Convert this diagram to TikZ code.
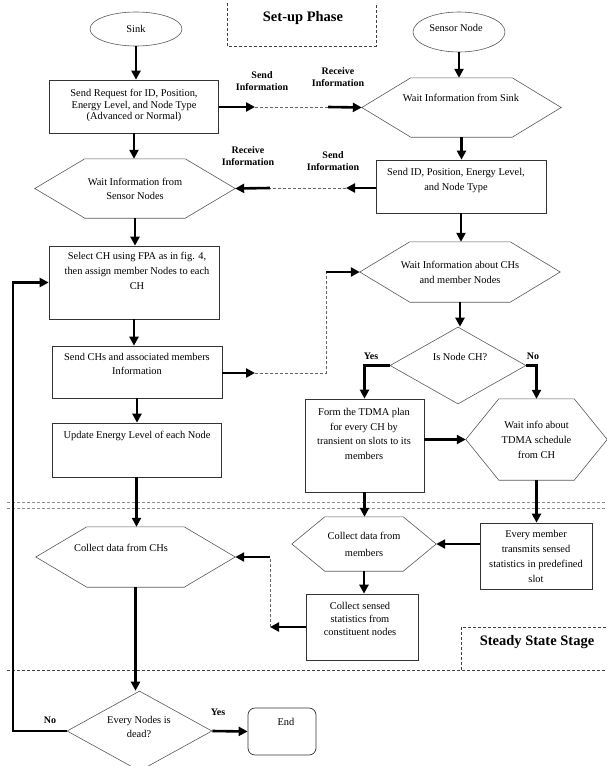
\documentclass[tikz,border=0pt]{standalone}
\usepackage{fontspec}
\setmainfont{Liberation Serif}
\usetikzlibrary{arrows.meta,shapes.geometric}

\tikzset{
  shape line/.style={draw=black!65, line width=0.6pt},
  box/.style={draw=black!80, line width=0.7pt, rectangle, inner sep=0pt},
  hexa/.style={rectangle, inner sep=0pt, align=center, font=\fontsize{10.4}{14}\selectfont},
  txt/.style={align=center, inner sep=0pt, font=\fontsize{10.4}{14}\selectfont},
  tag/.style={align=center, inner sep=0pt, font=\bfseries\fontsize{10}{12}\selectfont},
  title/.style={inner sep=0pt, font=\bfseries\fontsize{14.5}{16}\selectfont},
  flow/.style={line width=2.6pt, -{Triangle[length=9pt,width=9pt]}},
  link/.style={draw=black!60, line width=0.6pt, dash pattern=on 3pt off 2pt},
  frame/.style={draw=black!75, line width=0.6pt, dash pattern=on 3pt off 2pt},
  sep/.style={draw=black!45, line width=0.6pt, dash pattern=on 3pt off 2pt}
}

% hexagon around an empty rectangle node: #1 node, #2 tip length
\newcommand{\drawhex}[2]{\draw[shape line] (#1.west) -- ([xshift=#2]#1.north west)
  -- ([xshift=-#2]#1.north east) -- (#1.east) -- ([xshift=-#2]#1.south east)
  -- ([xshift=#2]#1.south west) -- cycle;}

\begin{document}
\begin{tikzpicture}[x=1pt,y=-1pt]
\useasboundingbox (0,0) rectangle (606,766);

% phases
\draw[frame] (227,3) -- (227,46) -- (376,46) -- (376,3);
\node[title] (setup) at (303,18) {Set-up Phase};
\draw[sep] (7,502) -- (606,502);
\draw[sep] (7,508) -- (606,508);
\draw[frame] (7,670) -- (606,670);
\draw[frame] (461,670) -- (461,627) -- (606,627);
\node[title] (steady) at (537,642) {Steady State Stage};

% sink side
\node[ellipse, shape line, inner sep=0pt, minimum width=92pt, minimum height=34pt, font=\fontsize{10.4}{14}\selectfont] (sink) at (136,29) {Sink};
\node[box, minimum width=169pt, minimum height=53pt] (req) at (134,106.5) {};
\node[txt, font=\fontsize{10.4}{11.5}\selectfont] (reqtxt) at (134,105.5) {Send Request for ID, Position,\\Energy Level, and Node Type\\(Advanced or Normal)};
\node[hexa, minimum width=200pt, minimum height=59pt] (waitsn) at (135,188.5) {Wait Information from\\Sensor Nodes};
\drawhex{waitsn}{50pt}
\node[box, minimum width=170pt, minimum height=73pt] (select) at (134,282.5) {};
\node[txt, font=\fontsize{10.4}{15}\selectfont] (selecttxt) at (137,271) {Select CH using FPA as in fig. 4,\\then assign member Nodes to each\\CH};
\node[box, minimum width=170pt, minimum height=52pt] (sendch) at (137,372) {};
\node[txt] (sendchtxt) at (137,364) {Send CHs and associated members\\Information};
\node[box, minimum width=169pt, minimum height=54pt] (update) at (136.5,450) {};
\node[txt] (updatetxt) at (137,436) {Update Energy Level of each Node};
\node[hexa, minimum width=199pt, minimum height=60pt] (collch) at (135.5,557) {};
\drawhex{collch}{51pt}
\node[txt] (collchtxt) at (121,548) {Collect data from CHs};
\node[diamond, shape line, inner sep=0pt, minimum width=145pt, minimum height=80pt] (dead) at (139.5,731) {};
\node[txt] (deadtxt) at (139,727) {Every Nodes is\\dead?};
\node[box, rounded corners=7pt, minimum width=68pt, minimum height=47pt] (end) at (282,731.5) {};
\node[txt] (endtxt) at (286,722) {End};

% sensor side
\node[ellipse, shape line, inner sep=0pt, minimum width=92pt, minimum height=40pt] (sensor) at (459,32) {};
\node[txt] (sensortxt) at (456,28) {Sensor Node};
\node[hexa, minimum width=199pt, minimum height=59pt] (waitsink) at (461.5,107.5) {};
\drawhex{waitsink}{49pt}
\node[txt] (waitsinktxt) at (461,98) {Wait Information from Sink};
\node[box, minimum width=170pt, minimum height=53pt] (sendid) at (461,186.5) {};
\node[txt, font=\fontsize{10.4}{15}\selectfont] (sendidtxt) at (456,180.5) {Send ID, Position, Energy Level,\\and Node Type};
\node[hexa, font=\fontsize{10.4}{15}\selectfont, minimum width=200pt, minimum height=60pt] (waitch) at (460,272) {Wait Information about CHs\\and member Nodes};
\drawhex{waitch}{50pt}
\node[diamond, shape line, inner sep=0pt, minimum width=136pt, minimum height=77pt] (isch) at (458,365.5) {};
\node[txt] (ischtxt) at (460,357) {Is Node CH?};
\node[box, minimum width=119pt, minimum height=93pt] (tdma) at (364.5,445.5) {};
\node[txt, font=\fontsize{10.4}{14.5}\selectfont] (tdmatxt) at (364,434) {Form the TDMA plan\\for every CH by\\transient on slots to its\\members};
\node[hexa, font=\fontsize{10.4}{15}\selectfont, minimum width=141pt, minimum height=81pt] (waittdma) at (536.5,439.5) {Wait info about\\TDMA schedule\\from CH};
\drawhex{waittdma}{33pt}
\node[hexa, font=\fontsize{10.4}{17}\selectfont, minimum width=144pt, minimum height=54pt] (collmem) at (364,544) {Collect data from\\members};
\drawhex{collmem}{33pt}
\node[box, align=center, font=\fontsize{10.4}{15}\selectfont, minimum width=112pt, minimum height=66pt] (transmit) at (536,556) {Every member\\transmits sensed\\statistics in predefined\\slot};
\node[box, minimum width=112pt, minimum height=66pt] (sensed) at (362,627) {};
\node[txt, font=\fontsize{10.4}{13}\selectfont] (sensedtxt) at (360,619) {Collect sensed\\statistics from\\constituent nodes};

% labels
\node[tag] (send1) at (262,81) {Send\\Information};
\node[tag] (recv1) at (338,77) {Receive\\Information};
\node[tag] (recv2) at (248,156) {Receive\\Information};
\node[tag] (send2) at (333,161) {Send\\Information};
\node[tag] (yes1) at (371,356) {Yes};
\node[tag] (no1) at (533,356) {No};
\node[tag] (no2) at (50,720) {No};
\node[tag] (yes2) at (218,712) {Yes};

% message ends
\coordinate (m1a) at (255,107);
\coordinate (m1b) at (328,107);
\coordinate (m2a) at (346,188);
\coordinate (m2b) at (270,188);
\coordinate (m3a) at (255,373);
\coordinate (m3b) at (326,373);
\coordinate (m3c) at (326,272);
\coordinate (m4a) at (270,627);
\coordinate (m4b) at (270,557);
\coordinate (loop) at (13,731);

% flow, sink side
\draw[flow] (sink.south) -- (sink.south |- req.north);
\draw[flow] (req.south) -- (req.south |- waitsn.north);
\draw[flow] (waitsn.south) -- (waitsn.south |- select.north);
\draw[flow] (select.south) -- (select.south |- sendch.north);
\draw[flow] (sendch.south) -- (sendch.south |- update.north);
\draw[flow] (update.south) -- (update.south |- collch.north);
\draw[flow] (collch.south) -- (collch.south |- dead.north);
\draw[flow] (dead.east) -- (end.west);
\draw[flow] (dead.west) -- (loop) |- (select.west);

% flow, sensor side
\draw[flow] (sensor.south) -- (sensor.south |- waitsink.north);
\draw[flow] (waitsink.south) -- (waitsink.south |- sendid.north);
\draw[flow] (sendid.south) -- (sendid.south |- waitch.north);
\draw[flow] (waitch.south) -- (waitch.south |- isch.north);
\draw[flow] (isch.west) -| (tdma.north);
\draw[flow] (isch.east) -| (waittdma.north);
\draw[flow] (tdma.east |- waittdma.west) -- (waittdma.west);
\draw[flow] (tdma.south) -- (tdma.south |- collmem.north);
\draw[flow] (waittdma.south) -- (waittdma.south |- transmit.north);
\draw[flow] (transmit.west |- collmem.east) -- (collmem.east);
\draw[flow] (collmem.south) -- (collmem.south |- sensed.north);

% messages between the two sides
\draw[flow] (req.east |- m1a) -- (m1a);
\draw[link] (m1a) -- (m1b);
\draw[flow] (m1b) -- (waitsink.west);
\draw[flow] (sendid.west |- m2a) -- (m2a);
\draw[link] (m2a) -- (m2b);
\draw[flow] (m2b) -- (waitsn.east);
\draw[flow] (sendch.east |- m3a) -- (m3a);
\draw[link] (m3a) -- (m3b) -- (m3c);
\draw[flow] (m3c) -- (waitch.west);
\draw[flow] (sensed.west |- m4a) -- (m4a);
\draw[link] (m4a) -- (m4b);
\draw[flow] (m4b) -- (collch.east);
\end{tikzpicture}
\end{document}
